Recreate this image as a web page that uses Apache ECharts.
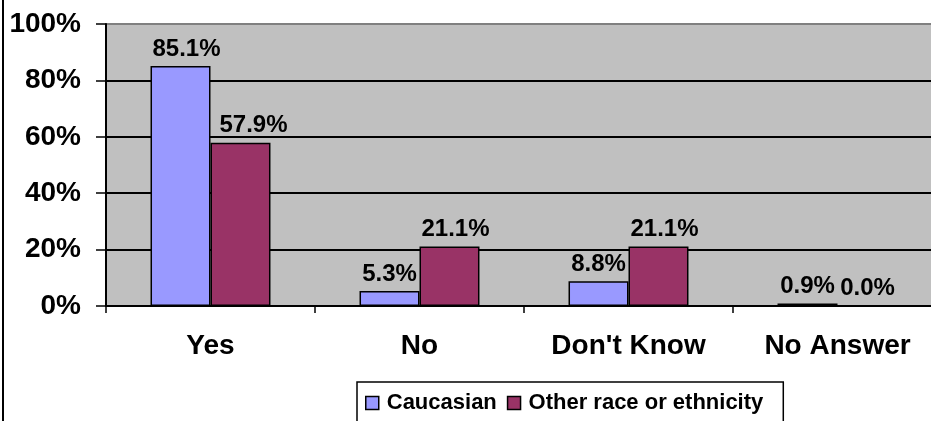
<!DOCTYPE html>
<html>
<head>
<meta charset="utf-8">
<style>
  html, body { margin: 0; padding: 0; background: #fff; overflow: hidden; }
  /* the plot runs a little past the right edge of the window */
  #chart { width: 945px; height: 421px; }
</style>
<script src="https://cdn.jsdelivr.net/npm/echarts@6/dist/echarts.min.js"></script>
</head>
<body>
<div id="chart"></div>
<script>
// Survey answers by group (percent of respondents)
const categories = ["Yes", "No", "Don't Know", "No Answer"];
const caucasian = [85.1, 5.3, 8.8, 0.9];
const otherRace = [57.9, 21.1, 21.1, 0.0];
const yTicks = [0, 20, 40, 60, 80, 100];
const seriesNames = ["Caucasian", "Other race or ethnicity"];

const FONT = "'Liberation Sans', Arial, sans-serif";

const chart = echarts.init(document.getElementById('chart'), null, { renderer: 'canvas' });

const labelStyle = {
  show: true,
  position: 'top',
  distance: 5,
  fontFamily: FONT,
  fontWeight: 'bold',
  fontSize: 24,
  color: '#000',
  formatter: p => p.value.toFixed(1) + '%'
};

chart.setOption({
  animation: false,
  backgroundColor: '#fff',
  textStyle: { fontFamily: FONT },
  grid: {
    left: 106,
    top: 24,
    width: 836,
    height: 282,
    show: true,
    backgroundColor: '#C0C0C0',
    borderWidth: 0,
    containLabel: false
  },
  legend: {
    data: seriesNames,
    left: 357,
    top: 382,
    orient: 'horizontal',
    backgroundColor: '#fff',
    borderColor: '#000',
    borderWidth: 1.5,
    borderRadius: 0,
    padding: [10, 20, 30, 8],
    itemGap: 10,
    itemWidth: 13,
    itemHeight: 13,
    icon: 'rect',
    itemStyle: { borderColor: '#000', borderWidth: 1.5 },
    textStyle: {
      fontFamily: FONT,
      fontWeight: 'bold',
      fontSize: 22,
      color: '#000',
      padding: [0, 0, 0, 3]
    }
  },
  xAxis: {
    type: 'category',
    data: categories,
    boundaryGap: true,
    axisLine: { show: true, lineStyle: { color: '#000', width: 2 } },
    axisTick: { show: true, alignWithLabel: false, length: 7, lineStyle: { color: '#000', width: 1.5 } },
    axisLabel: {
      margin: 26,
      fontFamily: FONT,
      fontWeight: 'bold',
      fontSize: 28,
      color: '#000'
    },
    splitLine: { show: false }
  },
  yAxis: {
    type: 'value',
    min: yTicks[0],
    max: yTicks[yTicks.length - 1],
    interval: 20,
    axisLine: { show: true, lineStyle: { color: '#000', width: 2 } },
    axisTick: { show: true, inside: false, length: 10, lineStyle: { color: '#000', width: 1.5 } },
    axisLabel: {
      margin: 25,
      fontFamily: FONT,
      fontWeight: 'bold',
      fontSize: 28,
      color: '#000',
      formatter: '{value}%'
    },
    splitLine: {
      show: true,
      lineStyle: {
        color: ['#000', '#000', '#000', '#000', '#000', '#808080'],
        width: 2
      }
    }
  },
  series: [
    {
      name: seriesNames[0],
      type: 'bar',
      data: caucasian.map((v, i) => ({
        value: v,
        label: i === 0 ? { offset: [6, 0] } : undefined
      })),
      barGap: '0%',
      barCategoryGap: '42.6%',
      itemStyle: { color: '#9999FF', borderColor: '#000', borderWidth: 1.5 },
      label: labelStyle
    },
    {
      name: seriesNames[1],
      type: 'bar',
      data: otherRace.map((v, i) => ({
        value: v,
        label: i === 0 ? { offset: [13, 0] } : (i < 3 ? { offset: [6, 0] } : undefined)
      })),
      barGap: '0%',
      barCategoryGap: '42.6%',
      itemStyle: { color: '#993366', borderColor: '#000', borderWidth: 1.5 },
      label: labelStyle
    }
  ],
  graphic: [
    {
      type: 'line',
      shape: { x1: 3, y1: 0, x2: 3, y2: 421 },
      style: { stroke: '#000', lineWidth: 2 },
      z: 100
    }
  ]
});
</script>
</body>
</html>
